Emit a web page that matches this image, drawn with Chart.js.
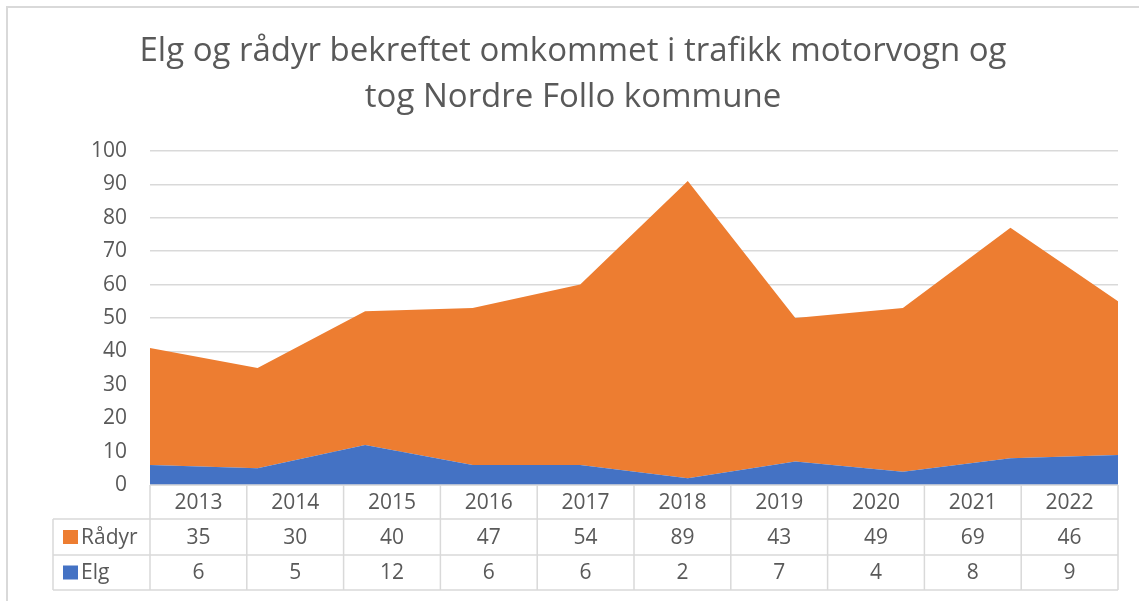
<!DOCTYPE html>
<html>
<head>
<meta charset="utf-8">
<script src="https://cdn.jsdelivr.net/npm/chart.js@4"></script>
<style>
html,body{margin:0;padding:0;background:#fff;}
#wrap{width:1139px;height:601px;}
</style>
</head>
<body>
<div id="wrap"><canvas id="c" width="1139" height="601"></canvas></div>
<script>
const years = ['2013','2014','2015','2016','2017','2018','2019','2020','2021','2022'];
const elg = [6,5,12,6,6,2,7,4,8,9];
const radyr = [35,30,40,47,54,89,43,49,69,46];
const titleLines = ['Elg og rådyr bekreftet omkommet i trafikk motorvogn og','tog Nordre Follo kommune'];

const ORANGE = '#ED7D31';
const BLUE = '#4472C4';
const TEXT = '#595959';
const LINE = '#d9d9d9';
const FONT = "'Open Sans', 'Liberation Sans', sans-serif";

const decor = {
  id: 'decor',
  beforeDraw(chart) {
    const ctx = chart.ctx;
    ctx.save();
    ctx.fillStyle = '#fff';
    ctx.fillRect(0, 0, chart.width, chart.height);
    ctx.strokeStyle = LINE;
    ctx.lineWidth = 2;
    ctx.strokeRect(7, 7, chart.width + 20, chart.height + 20);
    ctx.fillStyle = TEXT;
    ctx.font = '33px ' + FONT;
    ctx.textAlign = 'center';
    ctx.textBaseline = 'middle';
    ctx.fillText(titleLines[0], 573, 52);
    ctx.fillText(titleLines[1], 573, 98);
    ctx.restore();
  },
  afterDraw(chart) {
    const ctx = chart.ctx;
    const a = chart.chartArea;
    const xs = chart.scales.x2;
    const n = years.length;
    const band = (a.right - a.left) / n;
    const r0 = a.bottom, r1 = a.bottom + 34, r2 = a.bottom + 70, r3 = a.bottom + 105;
    const leftEdge = 53;
    ctx.save();
    ctx.strokeStyle = LINE;
    ctx.lineWidth = 1.5;
    ctx.beginPath();
    ctx.moveTo(a.left, r0); ctx.lineTo(a.right, r0);
    [r1, r2, r3].forEach(y => { ctx.moveTo(leftEdge, y); ctx.lineTo(a.right, y); });
    ctx.moveTo(leftEdge, r1); ctx.lineTo(leftEdge, r3);
    for (let i = 0; i <= n; i++) {
      const x = xs.getPixelForValue(Math.min(i, n - 1)) + (i === n ? band / 2 : -band / 2);
      ctx.moveTo(x, r0); ctx.lineTo(x, r3);
    }
    ctx.stroke();

    ctx.fillStyle = TEXT;
    ctx.font = '21px ' + FONT;
    ctx.textAlign = 'center';
    ctx.textBaseline = 'middle';
    for (let i = 0; i < n; i++) {
      const x = xs.getPixelForValue(i);
      ctx.fillText(years[i], x, (r0 + r1) / 2 + 1);
      ctx.fillText(String(radyr[i]), x, (r1 + r2) / 2 + 1);
      ctx.fillText(String(elg[i]), x, (r2 + r3) / 2 + 1);
    }
    // legend keys
    ctx.fillStyle = ORANGE;
    ctx.fillRect(63, (r1 + r2) / 2 - 7, 15, 14);
    ctx.fillStyle = BLUE;
    ctx.fillRect(63, (r2 + r3) / 2 - 7, 15, 14);
    ctx.fillStyle = TEXT;
    ctx.textAlign = 'left';
    ctx.fillText('Rådyr', 81, (r1 + r2) / 2 + 1);
    ctx.fillText('Elg', 81, (r2 + r3) / 2 + 1);
    ctx.restore();
  }
};

new Chart(document.getElementById('c'), {
  type: 'line',
  data: {
    labels: years,
    datasets: [
      { label: 'Elg', data: elg, backgroundColor: BLUE, borderColor: BLUE, borderWidth: 0, fill: 'origin', pointRadius: 0, tension: 0 },
      { label: 'Rådyr', data: radyr, backgroundColor: ORANGE, borderColor: ORANGE, borderWidth: 0, fill: '-1', pointRadius: 0, tension: 0 }
    ]
  },
  options: {
    responsive: false,
    animation: false,
    events: [],
    layout: { padding: { left: 0, right: 21, top: 151, bottom: 116 } },
    plugins: { legend: { display: false }, title: { display: false }, tooltip: { enabled: false } },
    scales: {
      x: { type: 'category', offset: false, display: false },
      x2: { type: 'category', labels: years, offset: true, display: false },
      y: {
        stacked: true,
        min: 0, max: 100,
        afterFit(s) { s.width = 150; },
        ticks: { stepSize: 10, color: TEXT, font: { size: 21, family: FONT }, padding: 23 },
        grid: { color: LINE, lineWidth: 1.5, drawTicks: false },
        border: { display: false }
      }
    }
  },
  plugins: [decor]
});
</script>
</body>
</html>
